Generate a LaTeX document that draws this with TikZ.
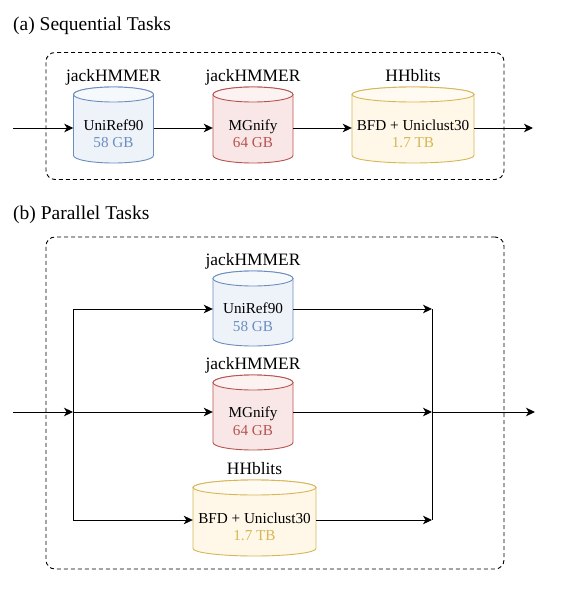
\documentclass[tikz,border=0pt]{standalone}
\usepackage{fontspec}
\setmainfont{Liberation Serif}
\usetikzlibrary{arrows.meta}
\definecolor{blueline}{HTML}{6C8EBF}
\definecolor{bluebody}{HTML}{EEF3FA}
\definecolor{bluetop}{HTML}{F6F9FC}
\definecolor{redline}{HTML}{B85450}
\definecolor{redbody}{HTML}{F9E7E7}
\definecolor{redtop}{HTML}{FCF2F2}
\definecolor{yellowline}{HTML}{D6B656}
\definecolor{yellowbody}{HTML}{FFF8E8}
\definecolor{yellowtop}{HTML}{FFFBF2}
\tikzset{
  arr/.style={line width=1pt, -{Stealth[length=9pt, width=8.5pt, inset=2.5pt]}},
  plainline/.style={line width=1pt},
  groupbox/.style={draw, dashed, dash pattern=on 4pt off 3pt, line width=0.9pt, rounded corners=9pt},
  title/.style={font=\rmfamily\fontsize{19.5}{22}\selectfont, anchor=base west, inner sep=0},
  toollabel/.style={font=\rmfamily\fontsize{17.4}{20}\selectfont, anchor=base, inner sep=0},
  dbtext/.style={font=\rmfamily\fontsize{15.2}{18}\selectfont, anchor=base, inner sep=0},
  dbarea/.style={inner sep=0, draw=none},
}
% #1 name, #2 cx, #3 top, #4 bottom, #5 width, #6 colour prefix, #7 tool, #8 db, #9 size
\newcommand{\dbnode}[9]{%
  \pgfmathsetmacro\cyL{#2-#5/2}%
  \pgfmathsetmacro\cyR{#2+#5/2}%
  \pgfmathsetmacro\cyHW{#5/2}%
  \pgfmathsetmacro\cyTe{#3+7.5}%
  \pgfmathsetmacro\cyBe{#4-7.5}%
  \pgfmathsetmacro\cyC{(#3+#4)/2}%
  \pgfmathsetmacro\cyH{#4-#3}%
  \filldraw[draw=#6line, fill=#6body, line width=0.9pt]
    (\cyL,\cyTe) -- (\cyL,\cyBe)
    arc[start angle=180, end angle=360, x radius=\cyHW pt, y radius=7.5pt]
    -- (\cyR,\cyTe)
    arc[start angle=0, end angle=180, x radius=\cyHW pt, y radius=7.5pt] -- cycle;
  \filldraw[draw=#6line, fill=#6top, line width=0.9pt]
    (#2,\cyTe) ellipse[x radius=\cyHW pt, y radius=7.5pt];
  \node[dbarea, minimum width=#5pt, minimum height=\cyH pt] (#1) at (#2,\cyC) {};
  \node[toollabel] (#1tool) at (#2,#3-5.5) {#7};
  \node[dbtext] (#1db) at (#2,\cyC+5) {#8};
  \node[dbtext, text=#6line] (#1size) at (#2,\cyC+22.5) {#9};
}
\begin{document}
\begin{tikzpicture}[x=1pt, y=-1pt]
\useasboundingbox (0,0) rectangle (581,607);
\fill[white] (0,0) rectangle (581,607);

% ---------- (a) ----------
\node[title] (ta) at (13,31) {(a) Sequential Tasks};
\node[groupbox, minimum width=458pt, minimum height=127pt, inner sep=0] (boxa) at (275,116) {};
\dbnode{ua}{113.5}{87}{163}{80}{blue}{jackHMMER}{UniRef90}{58 GB}
\dbnode{ma}{253}{87}{163}{80}{red}{jackHMMER}{MGnify}{64 GB}
\dbnode{ba}{413}{87}{163}{122}{yellow}{HHblits}{BFD + Uniclust30}{1.7 TB}
\coordinate (ina) at (13,128);
\coordinate (outa) at (533,128);
\draw[arr] (ina) -- (ina -| ua.west);
\draw[arr] (ina -| ua.east) -- (ina -| ma.west);
\draw[arr] (ina -| ma.east) -- (ina -| ba.west);
\draw[arr] (ina -| ba.east) -- (outa);

% ---------- (b) ----------
\node[title] (tb) at (13,219) {(b) Parallel Tasks};
\node[groupbox, minimum width=458pt, minimum height=332pt, inner sep=0] (boxb) at (275,403) {};
\dbnode{ub}{253}{271}{346}{80}{blue}{jackHMMER}{UniRef90}{58 GB}
\dbnode{mb}{253}{375}{450}{80}{red}{jackHMMER}{MGnify}{64 GB}
\dbnode{bb}{254.5}{480}{556}{123}{yellow}{HHblits}{BFD + Uniclust30}{1.7 TB}
\coordinate (inb) at (13,412);
\coordinate (sU) at (73,309);
\coordinate (sM) at (73,412);
\coordinate (sB) at (73,520);
\coordinate (jU) at (432,309);
\coordinate (jM) at (432,412);
\coordinate (jB) at (432,520);
\coordinate (outb) at (535,412);
\draw[arr] (inb) -- (sM);
\draw[plainline] (sU) -- (sB);
\draw[arr] (sU) -- (sU -| ub.west);
\draw[arr] (sM) -- (sM -| mb.west);
\draw[arr] (sB) -- (sB -| bb.west);
\draw[arr] (sU -| ub.east) -- (jU);
\draw[arr] (sM -| mb.east) -- (jM);
\draw[arr] (sB -| bb.east) -- (jB);
\draw[plainline] (jU) -- (jB);
\draw[arr] (jM) -- (outb);
\end{tikzpicture}
\end{document}
